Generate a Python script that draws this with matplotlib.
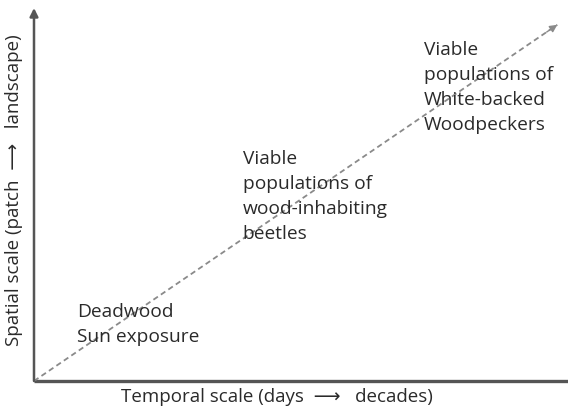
import matplotlib.pyplot as plt

plt.rcParams['font.family'] = ['Open Sans', 'DejaVu Sans']

# scale trend (fraction of axis) and the groups placed along it
trend_time = [0.0, 0.98]
trend_space = [0.0, 0.955]
group_labels = ['Deadwood\nSun exposure',
                'Viable\npopulations of\nwood-inhabiting\nbeetles',
                'Viable\npopulations of\nWhite-backed\nWoodpeckers']
group_time = [0.081, 0.391, 0.73]
group_space = [0.21, 0.618, 0.912]

fig = plt.figure(figsize=(5.68, 4.12), dpi=100)
ax = fig.add_axes([34 / 568, 31 / 412, 534 / 568, 373 / 412])
ax.set_xlim(0, 1)
ax.set_ylim(0, 1)
ax.axis('off')

axis_col = '#555555'
# axes with arrowheads
ax.annotate('', xy=(0, 1.0), xytext=(0, 0),
            arrowprops=dict(arrowstyle='-|>', color=axis_col, lw=1.8,
                            mutation_scale=12, shrinkA=0, shrinkB=0))
ax.plot([0, 1], [0, 0], color=axis_col, lw=2.4, solid_capstyle='butt',
        clip_on=False)

# dashed diagonal
ax.plot(trend_time, trend_space, color='#8a8a8a', lw=1.3, ls=(0, (3, 2)))
ax.annotate('', xy=(trend_time[1], trend_space[1]),
            xytext=(trend_time[1] - 0.02, trend_space[1] - 0.0195),
            arrowprops=dict(arrowstyle='-|>', color='#8a8a8a', lw=1,
                            mutation_scale=11, shrinkA=0, shrinkB=0))

for lab, x, y in zip(group_labels, group_time, group_space):
    ax.text(x, y, lab, fontsize=13.8, color='#2a2a2a', va='top', ha='left',
            linespacing=1.5)

fig.text(277 / 568, 1 - 397 / 412, 'Temporal scale (days  \u27f6   decades)',
         fontsize=13.5, color='#2a2a2a', ha='center', va='center')
fig.text(14 / 568, 1 - 190 / 412, 'Spatial scale (patch  \u27f6   landscape)',
         fontsize=13.5, color='#2a2a2a', ha='center', va='center',
         rotation=90)

fig.savefig('out.png', dpi=100)
